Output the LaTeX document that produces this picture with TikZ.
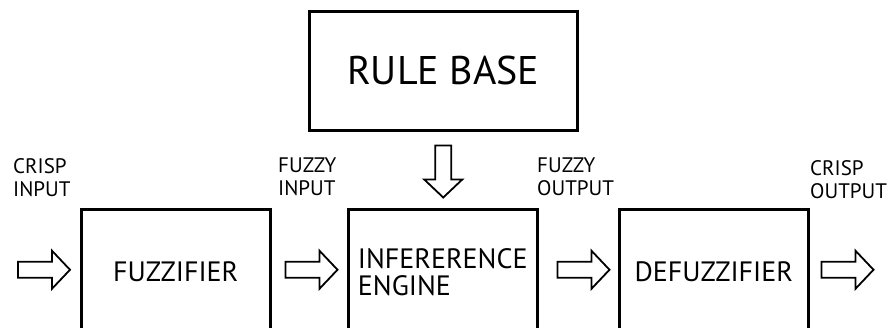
\documentclass[tikz,border=0pt]{standalone}
\usepackage{fontspec}
\setmainfont{PT Sans}
\usetikzlibrary{calc}

\tikzset{
  block/.style={draw, line width=2.5pt, inner sep=0pt, anchor=north west,
    minimum width=189pt, minimum height=125pt, font=\fontsize{28}{27}\selectfont},
  lbl/.style={anchor=north west, inner sep=0pt, align=left,
    font=\fontsize{21}{23}\selectfont},
  pics/hollow/.style={code={
    \draw[line width=1.8pt, line join=miter]
      (0,-8) -- (34,-8) -- (34,-19) -- (52,0) -- (34,19) -- (34,8) -- (0,8) -- cycle;
  }}
}

\begin{document}
\begin{tikzpicture}[x=1pt,y=-1pt]
  \useasboundingbox (0,0) rectangle (888,327);
  \clip (0,0) rectangle (888,327);
  % Blocks
  \node[block, minimum width=268pt, minimum height=119pt,
    font=\fontsize{40}{40}\selectfont] (rules) at (308,10) {RULE BASE};
  \node[block] (fuzz) at (80,208) {FUZZIFIER};
  \node[block, align=left] (infer) at (347,208) {INFERERENCE\\ENGINE};
  \node[block] (defuzz) at (618,208) {DEFUZZIFIER};
  % Hollow arrows
  \pic at ($(fuzz.west)+(-62,-2)$) {hollow};
  \pic at ($(fuzz.east)+(14,-2)$) {hollow};
  \pic at ($(infer.east)+(19,-2)$) {hollow};
  \pic at ($(defuzz.east)+(12,-2)$) {hollow};
  \pic[rotate=-90] at ($(rules.south)+(0,14)$) {hollow};
  % Labels
  \node[lbl] (cin) at (13,158) {CRISP\\INPUT};
  \node[lbl] (fin) at (278,158) {FUZZY\\INPUT};
  \node[lbl] (fout) at (537,158) {FUZZY\\OUTPUT};
  \node[lbl] (cout) at (810,160) {CRISP\\OUTPUT};
\end{tikzpicture}
\end{document}
